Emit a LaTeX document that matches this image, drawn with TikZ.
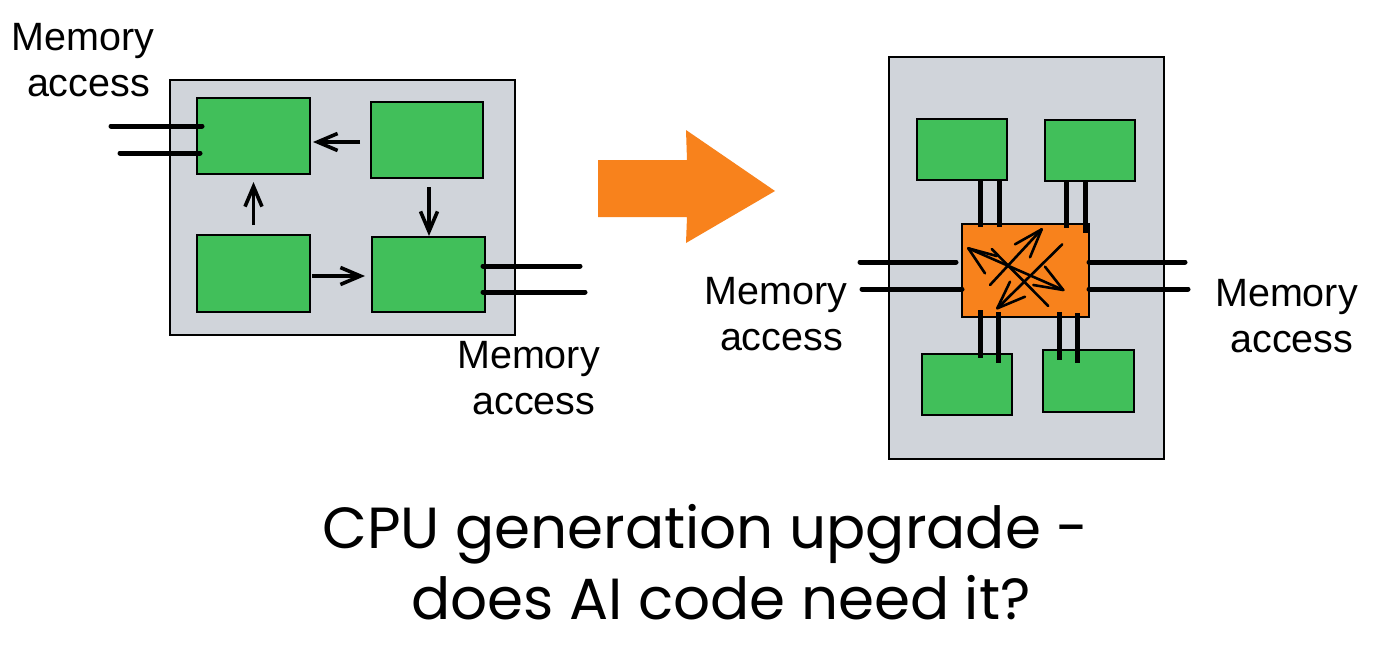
\documentclass[tikz,border=0pt]{standalone}
\usepackage{fontspec}
\setmainfont{Liberation Sans}
\newfontfamily\handfont{Poppins}
\usetikzlibrary{arrows.meta}
\definecolor{chipgray}{HTML}{D0D4DA}
\definecolor{coregreen}{HTML}{41BF5A}
\definecolor{hotorange}{HTML}{F8821C}
\begin{document}
\begin{tikzpicture}[x=1pt,y=-1pt,
 chip/.style={draw=black, line width=1.5pt, fill=chipgray, inner sep=0pt, outer sep=0pt},
 unit/.style={draw=black, line width=1.3pt, fill=coregreen, inner sep=0pt, outer sep=0pt},
 hub/.style={draw=black, line width=1.3pt, fill=hotorange, inner sep=0pt, outer sep=0pt},
 memline/.style={line width=5pt, line cap=round},
 link/.style={line width=5pt},
 flow/.style={line width=3.6pt, -{Straight Barb[length=20pt,width=17pt]}},
 scrib/.style={line width=2.6pt, line cap=round, line join=round},
 lab/.style={font=\fontsize{39.5}{46}\selectfont, align=center, inner sep=0pt, anchor=north},
 hand/.style={font=\handfont\fontsize{58}{70}\selectfont, inner sep=0pt, anchor=base},
]
\fill[white] (0,0) rectangle (1379,653);
\useasboundingbox (0,0) rectangle (1379,653);

% ---------- left chip ----------
\node[chip, minimum width=345pt, minimum height=255pt] (chipA) at (342.5,207.5) {};
\node[unit, minimum width=113pt, minimum height=76pt] (a1) at (253.5,136) {};
\node[unit, minimum width=112pt, minimum height=76pt] (a2) at (427,140) {};
\node[unit, minimum width=113pt, minimum height=77pt] (a3) at (253.5,273.5) {};
\node[unit, minimum width=113pt, minimum height=75pt] (a4) at (428.5,274.5) {};

\draw[flow, shorten <=11pt, shorten >=3pt] (a2.west |- 0,142) -- (a1.east |- 0,142);
\draw[flow, shorten <=10pt, shorten >=8pt] (a3.north) -- (a1.south);
\draw[flow, shorten <=9pt, shorten >=1pt] (a2.south -| 429,0) -- (a4.north -| 429,0);
\draw[flow, shorten <=2pt, shorten >=7pt] (a3.east |- 0,276) -- (a4.west |- 0,276);

\coordinate (mA1) at (111,126);
\coordinate (mA2) at (120,153);
\coordinate (mA3) at (580,266);
\coordinate (mA4) at (585,292);
\draw[memline, shorten >=-5pt] (mA1) -- (a1.west |- mA1);
\draw[memline, shorten >=-3pt] (mA2) -- (a1.west |- mA2);
\draw[memline, shorten <=-2pt] (a4.east |- mA3) -- (mA3);
\draw[memline, shorten <=-2pt] (a4.east |- mA4) -- (mA4);

\node[lab] (labA1) at (83,23) {Memory\\\hspace*{.278em}access};
\node[lab] (labA2) at (528.5,341) {Memory\\\hspace*{.278em}access};

% ---------- big arrow ----------
\fill[hotorange] (598,160) -- (687,160) -- (686,130) -- (775,191) -- (686,243) -- (687,217) -- (598,217) -- cycle;

% ---------- right chip ----------
\node[chip, minimum width=275pt, minimum height=402pt] (chipB) at (1026.5,258) {};
\node[unit, minimum width=90pt, minimum height=61pt] (b1) at (962,149.5) {};
\node[unit, minimum width=90pt, minimum height=61pt] (b2) at (1090,150.5) {};
\node[unit, minimum width=90pt, minimum height=61pt] (b3) at (967,384.5) {};
\node[unit, minimum width=91pt, minimum height=62pt] (b4) at (1088.5,381) {};
\node[hub, minimum width=127pt, minimum height=93pt] (hub) at (1025.5,270.5) {};

\draw[link, shorten >=-3pt] (b1.south -| 980,0) -- (hub.north -| 980,0);
\draw[link, shorten >=-3pt] (b1.south -| 999,0) -- (hub.north -| 999,0);
\draw[link, shorten >=-4pt] (b2.south -| 1066,0) -- (hub.north -| 1066,0);
\draw[link, shorten >=-9pt] (b2.south -| 1085,0) -- (hub.north -| 1085,0);
\draw[link, shorten <=-7pt, shorten >=-4pt] (hub.south -| 980,0) -- (b3.north -| 980,0);
\draw[link, shorten <=-5pt, shorten >=-9pt] (hub.south -| 998,0) -- (b3.north -| 998,0);
\draw[link, shorten <=-5pt, shorten >=-10pt] (hub.south -| 1059,0) -- (b4.north -| 1059,0);
\draw[link, shorten <=-4pt, shorten >=-13pt] (hub.south -| 1077,0) -- (b4.north -| 1077,0);

\coordinate (mB1) at (860,262);
\coordinate (mB2) at (862,289);
\coordinate (mB3) at (1185,262);
\coordinate (mB4) at (1188,289);
\draw[memline, shorten >=6pt] (mB1) -- (hub.west |- mB1);
\draw[memline] (mB2) -- (hub.west |- mB2);
\draw[memline] (hub.east |- mB3) -- (mB3);
\draw[memline] (hub.east |- mB4) -- (mB4);

% scribbled all-to-all arrows inside the hub
\draw[scrib] (996.7,256) -- (968.3,248.3) -- (985,273.3);
\draw[scrib] (968.3,248.3) -- (1063.3,290);
\draw[scrib] (1045,266.7) -- (1063.3,290) -- (1033.3,285);
\draw[scrib] (991.7,249) -- (1048.3,306);
\draw[scrib] (990,285) -- (1041.7,229.3);
\draw[scrib] (1015,244.3) -- (1041.7,229.3) -- (1030,257.3);
\draw[scrib] (1062.3,244.3) -- (997.3,308.3);
\draw[scrib] (1025,296.7) -- (997.3,308.3) -- (1010,281.7);

\node[lab] (labB1) at (776,277.5) {Memory\\\hspace*{.278em}access};
\node[lab] (labB2) at (1286.5,279) {Memory\\\hspace*{.278em}access};

% ---------- caption ----------
\node[hand] (cap1) at (705.5,548) {CPU generation upgrade -};
\node[hand] (cap2) at (721,619) {does AI code need it?};
\end{tikzpicture}
\end{document}
